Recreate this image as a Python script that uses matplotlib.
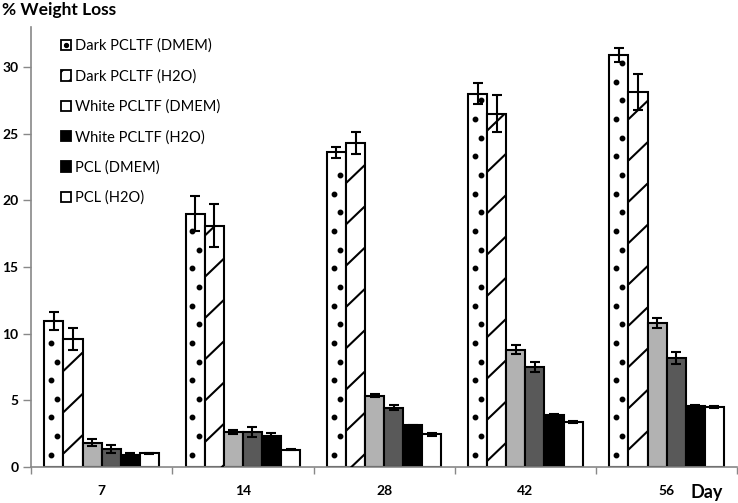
import numpy as np
import matplotlib
matplotlib.use("Agg")
import matplotlib.pyplot as plt
from matplotlib.patches import Patch
from matplotlib.lines import Line2D
from matplotlib.legend_handler import HandlerTuple

plt.rcParams['font.family'] = ['Lato', 'DejaVu Sans']

days = ['7', '14', '28', '42', '56']
series = ['Dark PCLTF (DMEM)', 'Dark PCLTF (H2O)', 'White PCLTF (DMEM)',
          'White PCLTF (H2O)', 'PCL (DMEM)', 'PCL (H2O)']
dark_dmem = [10.95, 19.0, 23.6, 28.0, 30.9]
dark_dmem_err = [0.65, 1.3, 0.4, 0.8, 0.55]
dark_h2o = [9.6, 18.1, 24.3, 26.5, 28.1]
dark_h2o_err = [0.85, 1.6, 0.8, 1.4, 1.35]
white_dmem = [1.8, 2.6, 5.35, 8.8, 10.8]
white_dmem_err = [0.25, 0.15, 0.1, 0.35, 0.35]
white_h2o = [1.3, 2.6, 4.45, 7.5, 8.2]
white_h2o_err = [0.3, 0.4, 0.2, 0.35, 0.45]
pcl_dmem = [0.9, 2.3, 3.1, 3.9, 4.6]
pcl_dmem_err = [0.1, 0.2, 0.05, 0.05, 0.05]
pcl_h2o = [1.0, 1.28, 2.43, 3.38, 4.5]
pcl_h2o_err = [0.05, 0.03, 0.1, 0.08, 0.05]

values = [dark_dmem, dark_h2o, white_dmem, white_h2o, pcl_dmem, pcl_h2o]
errors = [dark_dmem_err, dark_h2o_err, white_dmem_err, white_h2o_err, pcl_dmem_err, pcl_h2o_err]
colors = ['white', 'white', '#b2b2b2', '#595959', 'black', 'white']

fig = plt.figure(figsize=(7.38, 5.03), dpi=100)
ax = fig.add_axes([0.042, 0.072, 0.957, 0.874])

x = np.arange(len(days))
w = 0.135
offsets = (np.arange(6) - 2.5) * w
containers = []
for i in range(6):
    bc = ax.bar(x + offsets[i], values[i], w, color=colors[i], edgecolor='black',
                linewidth=1.5, zorder=2)
    ax.errorbar(x + offsets[i], values[i], yerr=errors[i], fmt='none', ecolor='black',
                elinewidth=1.5, capsize=3.5, capthick=1.5, zorder=4)
    containers.append(bc)

# dotted decoration for Dark PCLTF (DMEM)
for rect in containers[0]:
    x0, wd, h = rect.get_x(), rect.get_width(), rect.get_height()
    ys = np.arange(0.9, h - 0.4, 1.4)
    xs = np.where(np.arange(len(ys)) % 2 == 0, x0 + 0.35 * wd, x0 + 0.68 * wd)
    ax.plot(xs, ys, linestyle='none', marker='o', markersize=3.2, color='black', zorder=3)

# diagonal line decoration for Dark PCLTF (H2O)
slope = 1.37 / w
period = 3.1
for rect in containers[1]:
    x0, wd, h = rect.get_x(), rect.get_width(), rect.get_height()
    phase = (1.0 + slope * (x0 - containers[1][0].get_x())) % period
    for yb in np.arange(phase - period, h, period):
        ln, = ax.plot([x0, x0 + wd], [yb, yb + slope * wd], color='black', lw=1.5,
                      zorder=3, solid_capstyle='butt')
        ln.set_clip_path(rect)

ax.set_xlim(-0.5, len(days) - 0.5)
ax.set_ylim(0, 33)
ax.set_yticks(np.arange(0, 31, 5))
ax.set_xticks(x)
ax.set_xticklabels(days)
ax.set_xticks(np.arange(-0.5, len(days)), minor=True)
ax.tick_params(axis='x', which='major', length=0, pad=13)
ax.tick_params(axis='x', which='minor', length=5, color='#888888', width=1)
ax.tick_params(axis='y', length=6, color='#888888', width=1, pad=3)
for lab in ax.get_xticklabels() + ax.get_yticklabels():
    lab.set_fontweight('bold')
    lab.set_fontsize(10)
for s in ['top', 'right']:
    ax.spines[s].set_visible(False)
for s in ['left', 'bottom']:
    ax.spines[s].set_color('#888888')
    ax.spines[s].set_linewidth(1.2)

fig.text(0.003, 0.997, '% Weight Loss', fontsize=12.5, fontweight='bold', va='top', ha='left')
fig.text(0.979, 0.004, 'Day', fontsize=13, fontweight='bold', va='bottom', ha='right')

box = dict(edgecolor='black', linewidth=1.3)
h_dd = (Patch(facecolor='white', **box),
        Line2D([], [], marker='o', linestyle='none', markersize=2.8, color='black'))
h_dh = Patch(facecolor='white', hatch='//', **box)
h_wd = Patch(facecolor='white', **box)
h_wh = Patch(facecolor='black', **box)
h_pd = Patch(facecolor='black', **box)
h_ph = Patch(facecolor='white', **box)
leg = ax.legend([h_dd, h_dh, h_wd, h_wh, h_pd, h_ph], series,
                handler_map={tuple: HandlerTuple(ndivide=1, pad=0)},
                loc='upper left', bbox_to_anchor=(0.032, 0.99), frameon=False,
                fontsize=10.5, labelspacing=1.1, handlelength=0.72, handleheight=0.72,
                handletextpad=0.25, borderpad=0, numpoints=1)

fig.savefig('out.png', dpi=100)
